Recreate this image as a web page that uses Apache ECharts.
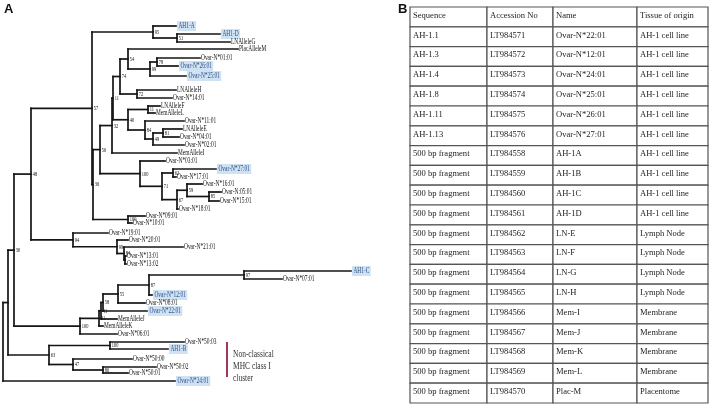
<!DOCTYPE html>
<html><head><meta charset="utf-8">
<script src="https://cdn.jsdelivr.net/npm/echarts@6/dist/echarts.min.js"></script>
<style>html,body{margin:0;padding:0;background:#fff}#c{width:712px;height:409px}</style>
</head><body><div id="c"></div>
<script>
// ---------- Tree data ----------
const leafNames = ['AH1-A','AH1-D','LNAlleleG','PlacAlleleM','Ovar-N*01:01','Ovar-N*26:01','Ovar-N*25:01','LNAlleleH','Ovar-N*14:01','LNAlleleF','MemAlleleL','Ovar-N*11:01','LNAlleleE','Ovar-N*04:01','Ovar-N*02:01','MemAlleleI','Ovar-N*03:01','Ovar-N*27:01','Ovar-N*17:01','Ovar-N*16:01','Ovar-N:05:01','Ovar-N*15:01','Ovar-N*18:01','Ovar-N*09:01','Ovar-N*10:01','Ovar-N*19:01','Ovar-N*20:01','Ovar-N*21:01','Ovar-N*13:01','Ovar-N*13:02','AH1-C','Ovar-N*07:01','Ovar-N*12:01','Ovar-N*08:01','Ovar-N*22:01','MemAlleleJ','MemAlleleK','Ovar-N*06:01','Ovar-N*50:03','AH1-B','Ovar-N*50:00','Ovar-N*50:02','Ovar-N*50:01','Ovar-N*24:01'];
const leafY = [26,34,42,49,58,66,76,90,98,106,113,121,129,137,145,153,161,169,177,184,192,201,209,216,223,233,240,247,256,264,271,279,295,303,311,319,326,334,342,349,359,367,373,381];
const leafDepth = [173,217,227,235,197,175,183,173,169,157,152,181,179,176,181,174,162,213,173,199,218,216,175,142,129,105,125,180,123,123,348,279,149,142,144,114,100,114,181,165,129,153,125,172];
const leafParent = ['n95','n51','n51','n54','n78','n78','n99a','n72','n72','n11b','n11b','n84a','n81','n81','n49','n32','n100a','n62','n62','n59','n85','n85','n67','n100c','n100c','n94','n99b','n84b','nT','nT','n97','n97','n87','n55','n58','n41','n81b','n100big','n100d','n100d','n47','n86','n86','n0'];
const highlighted = ['AH1-A','AH1-D','Ovar-N*26:01','Ovar-N*25:01','Ovar-N*27:01','AH1-C','Ovar-N*12:01','Ovar-N*22:01','AH1-B','Ovar-N*24:01'];

const nodeIds     = ['n0','nA','n30','n63','n48','n100big','n57','n94','n95','n51','n36','n56','n100c','n32','n100a','n11','n74','n40','n54','n72','n99a','n78','n11b','n84a','n49','n81','n71','n62','n67','n59','n85','n99b','n84b','nT','n81b','n41','n58','n55','n87','n97','n100d','n47','n86'];
const nodeParent  = ['','n0','nA','nA','n30','n30','n48','n48','n57','n95','n57','n36','n36','n56','n56','n32','n11','n11','n74','n74','n54','n99a','n40','n40','n84a','n49','n100a','n71','n71','n67','n59','n94','n99b','n84b','n100big','n81b','n41','n58','n55','n87','n63','n63','n47'];
const nodeDepth   = [0,5,11,46,28,77,89,70,150,174,90,97,125,109,137,110,117,125,125,134,147,154,145,142,150,160,159,170,174,184,206,114,121,122,96,98,100,115,146,241,107,70,100];
const nodeSupport = ['','','30','63','48','100','57','94','95','51','36','56','100','32','100','11','74','40','54','72','99','78','11','84','49','81','71','62','67','59','85','99','84','','81','41','58','55','87','97','100','47','86'];

const clusterLabel = ['Non-classical','MHC class I','cluster'];
const clusterLeaves = ['Ovar-N*50:03','Ovar-N*24:01'];
const clusterDepth = 224;

// ---------- Table data ----------
const tableHeader = ['Sequence','Accession No','Name','Tissue of origin'];
const seqCol = ['AH-1.1','AH-1.3','AH-1.4','AH-1.8','AH-1.11','AH-1.13','500 bp fragment','500 bp fragment','500 bp fragment','500 bp fragment','500 bp fragment','500 bp fragment','500 bp fragment','500 bp fragment','500 bp fragment','500 bp fragment','500 bp fragment','500 bp fragment','500 bp fragment'];
const accCol = ['LT984571','LT984572','LT984573','LT984574','LT984575','LT984576','LT984558','LT984559','LT984560','LT984561','LT984562','LT984563','LT984564','LT984565','LT984566','LT984567','LT984568','LT984569','LT984570'];
const nameCol = ['Ovar-N*22:01','Ovar-N*12:01','Ovar-N*24:01','Ovar-N*25:01','Ovar-N*26:01','Ovar-N*27:01','AH-1A','AH-1B','AH-1C','AH-1D','LN-E','LN-F','LN-G','LN-H','Mem-I','Mem-J','Mem-K','Mem-L','Plac-M'];
const tissueCol = ['AH-1 cell line','AH-1 cell line','AH-1 cell line','AH-1 cell line','AH-1 cell line','AH-1 cell line','AH-1 cell line','AH-1 cell line','AH-1 cell line','AH-1 cell line','Lymph Node','Lymph Node','Lymph Node','Lymph Node','Membrane','Membrane','Membrane','Membrane','Placentome'];

// ---------- Layout / style ----------
const colWidths = [77, 66, 84, 71];
const SERIF = 'Liberation Serif';

// ---------- Build tree geometry ----------
const nodes = {};
nodeIds.forEach((id, i) => nodes[id] = {id, parent: nodeParent[i], depth: nodeDepth[i], support: nodeSupport[i], children: [], leaf: false});
leafNames.forEach((n, i) => nodes['L' + i] = {id: 'L' + i, name: n, parent: leafParent[i], depth: leafDepth[i], y: leafY[i], leaf: true, children: []});
Object.values(nodes).forEach(n => { if (n.parent) nodes[n.parent].children.push(n); });
function setY(n) {
  if (n.leaf) return n.y;
  const ys = n.children.map(setY);
  n.y0 = Math.min(...ys); n.y1 = Math.max(...ys); n.y = (n.y0 + n.y1) / 2;
  return n.y;
}
setY(nodes['n0']);
const segs = [];
Object.values(nodes).forEach(n => {
  if (n.parent) { const p = nodes[n.parent]; segs.push([p.depth, n.y, n.depth, n.y]); }
  if (!n.leaf) segs.push([n.depth, n.y0, n.depth, n.y1]);
});
const supportNodes = Object.values(nodes).filter(n => !n.leaf && n.support);
const supportData = supportNodes.map(n => [n.depth, n.y]);
const leafData = leafNames.map((n, i) => [leafDepth[i], leafY[i]]);
const cy0 = leafY[leafNames.indexOf(clusterLeaves[0])];
const cy1 = leafY[leafNames.indexOf(clusterLeaves[1])];

// table cells
const colEdges = [0];
colWidths.forEach(w => colEdges.push(colEdges[colEdges.length - 1] + w));
const tableRows = [tableHeader].concat(seqCol.map((s, i) => [s, accCol[i], nameCol[i], tissueCol[i]]));
const cellData = [];
tableRows.forEach((row, r) => row.forEach((t, c) => cellData.push([c, r])));

const chart = echarts.init(document.getElementById('c'), null, {renderer: 'canvas'});
chart.setOption({
  animation: false,
  backgroundColor: '#fff',
  title: [
    {text: 'A', left: 4, top: 3, padding: 0, textStyle: {fontFamily: 'Liberation Sans', fontWeight: 'bold', fontSize: 13, color: '#111'}},
    {text: 'B', left: 398, top: 3, padding: 0, textStyle: {fontFamily: 'Liberation Sans', fontWeight: 'bold', fontSize: 13, color: '#111'}}
  ],
  grid: [
    {left: 3, top: 0, width: 400, height: 409},
    {left: 410, top: 7, width: colEdges[4], height: 396}
  ],
  xAxis: [
    {gridIndex: 0, type: 'value', min: 0, max: 400, show: false},
    {gridIndex: 1, type: 'value', min: 0, max: colEdges[4], show: false}
  ],
  yAxis: [
    {gridIndex: 0, type: 'value', min: 0, max: 409, inverse: true, show: false},
    {gridIndex: 1, type: 'category', data: tableRows.map((r, i) => i), inverse: true, show: false}
  ],
  series: [
    {
      type: 'custom', xAxisIndex: 0, yAxisIndex: 0, clip: false, silent: true,
      data: segs, encode: {x: [0, 2], y: [1, 3]},
      renderItem: (params, api) => {
        const a = api.coord([api.value(0), api.value(1)]);
        const b = api.coord([api.value(2), api.value(3)]);
        return {type: 'line', shape: {x1: a[0], y1: a[1], x2: b[0], y2: b[1]},
          style: {stroke: '#141414', lineWidth: 1.7, lineCap: 'square'}};
      }
    },
    {
      type: 'custom', xAxisIndex: 0, yAxisIndex: 0, clip: false, silent: true,
      data: leafData, encode: {x: 0, y: 1},
      renderItem: (params, api) => {
        const p = api.coord([api.value(0), api.value(1)]);
        const name = leafNames[params.dataIndex];
        const hl = highlighted.indexOf(name) >= 0;
        return {type: 'text', x: p[0] + 1, y: p[1], scaleX: 0.72,
          style: {text: name, x: 0, y: 0, fontFamily: SERIF, fontSize: 7.5, fill: hl ? '#2b4a80' : '#111',
            verticalAlign: 'middle', align: 'left', backgroundColor: hl ? '#cfe2f3' : 'transparent', padding: hl ? [1, 2, 1, 2] : 0}};
      }
    },
    {
      type: 'custom', xAxisIndex: 0, yAxisIndex: 0, clip: false, silent: true,
      data: supportData, encode: {x: 0, y: 1},
      renderItem: (params, api) => {
        const p = api.coord([api.value(0), api.value(1)]);
        return {type: 'text', x: p[0] + 1.8, y: p[1] + 0.5, scaleX: 0.8,
          style: {text: supportNodes[params.dataIndex].support, x: 0, y: 0, fontFamily: SERIF, fontSize: 5.5, fill: '#111',
            verticalAlign: 'middle', align: 'left'}};
      }
    },
    {
      type: 'custom', xAxisIndex: 0, yAxisIndex: 0, clip: false, silent: true,
      data: [[clusterDepth, cy0, cy1]], encode: {x: 0, y: [1, 2]},
      renderItem: (params, api) => {
        const a = api.coord([api.value(0), api.value(1)]);
        const b = api.coord([api.value(0), api.value(2)]);
        return {type: 'group', children: [
          {type: 'line', shape: {x1: a[0], y1: a[1], x2: b[0], y2: b[1] - 4}, style: {stroke: '#9c3a58', lineWidth: 2}},
          {type: 'text', x: a[0] + 6, y: a[1] + 6, scaleX: 0.68,
            style: {text: clusterLabel.join('\n'), x: 0, y: 0, fontFamily: SERIF, fontSize: 11, lineHeight: 12, fill: '#333', verticalAlign: 'top', align: 'left'}}
        ]};
      }
    },
    {
      type: 'custom', xAxisIndex: 1, yAxisIndex: 1, clip: false, silent: true,
      data: cellData, encode: {x: 0, y: 1},
      renderItem: (params, api) => {
        const c = api.value(0), r = api.value(1);
        const left = api.coord([colEdges[c], r]);
        const right = api.coord([colEdges[c + 1], r]);
        const h = api.size([0, 1])[1];
        const top = left[1] - h / 2;
        return {type: 'group', children: [
          {type: 'rect', shape: {x: left[0], y: top, width: right[0] - left[0], height: h},
            style: {fill: '#fff', stroke: '#555', lineWidth: 1.2}},
          {type: 'text', x: left[0] + 3, y: left[1] - 1.5, scaleX: 0.95,
            style: {text: tableRows[r][c], x: 0, y: 0, fontFamily: SERIF, fontSize: 9, fill: '#222', verticalAlign: 'middle', align: 'left'}}
        ]};
      }
    }
  ]
});
</script>
</body></html>
